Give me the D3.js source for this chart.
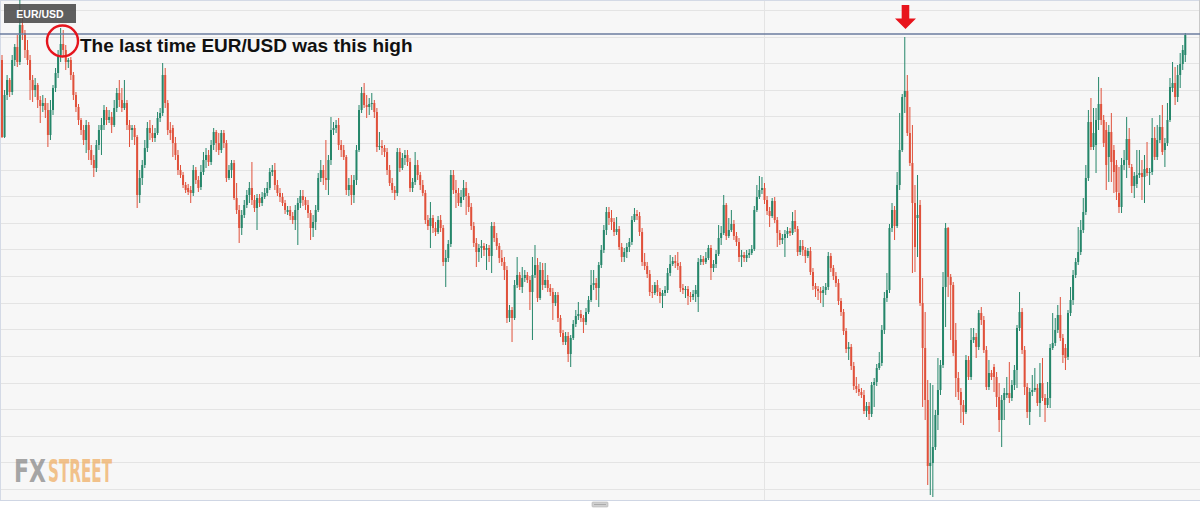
<!DOCTYPE html>
<html><head><meta charset="utf-8">
<script src="https://cdn.jsdelivr.net/npm/d3@7/dist/d3.min.js"></script>
<style>
html,body{margin:0;padding:0;background:#ffffff;}
svg{display:block;}
</style></head><body>
<svg id="chart" width="1200" height="510"></svg>
<script>
// EUR/USD candles: [open, high, low, close]
const candles = [
// part 1
[1.1440,1.1445,1.1362,1.1363],[1.1363,1.1410,1.1362,1.1405],[1.1405,1.1425,1.1400,1.1420],[1.1420,1.1422,1.1403,1.1408],
[1.1408,1.1445,1.1405,1.1440],[1.1440,1.1456,1.1434,1.1453],[1.1453,1.1465,1.1433,1.1438],[1.1438,1.1500,1.1435,1.1475],
[1.1475,1.1490,1.1460,1.1467],[1.1467,1.1470,1.1442,1.1450],[1.1450,1.1460,1.1435,1.1440],[1.1440,1.1445,1.1400,1.1420],
[1.1420,1.1425,1.1398,1.1410],[1.1410,1.1422,1.1403,1.1415],[1.1415,1.1417,1.1392,1.1400],[1.1400,1.1404,1.1377,1.1394],
[1.1394,1.1405,1.1388,1.1397],[1.1397,1.1402,1.1382,1.1390],[1.1390,1.1397,1.1353,1.1365],[1.1365,1.1400,1.1360,1.1390],
[1.1390,1.1415,1.1385,1.1412],[1.1412,1.1432,1.1408,1.1427],[1.1427,1.1450,1.1422,1.1445],[1.1445,1.1472,1.1438,1.1456],
[1.1456,1.1470,1.1443,1.1450],[1.1450,1.1455,1.1430,1.1438],[1.1438,1.1442,1.1432,1.1440],[1.1440,1.1443,1.1420,1.1425],
[1.1425,1.1428,1.1400,1.1405],[1.1405,1.1408,1.1388,1.1393],[1.1393,1.1396,1.1375,1.1380],[1.1380,1.1382,1.1365,1.1370],
[1.1370,1.1375,1.1355,1.1360],[1.1360,1.1380,1.1347,1.1375],[1.1375,1.1378,1.1340,1.1350],[1.1350,1.1355,1.1335,1.1340],
[1.1340,1.1345,1.1323,1.1332],[1.1332,1.1360,1.1328,1.1355],[1.1355,1.1375,1.1350,1.1370],
// part 2
[1.1370,1.1382,1.1345,1.1375],[1.1375,1.1395,1.1370,1.1390],[1.1390,1.1393,1.1375,1.1380],[1.1380,1.1390,1.1377,1.1383],
[1.1383,1.1388,1.1367,1.1375],[1.1375,1.1400,1.1373,1.1392],[1.1392,1.1412,1.1388,1.1407],[1.1407,1.1420,1.1393,1.1400],
[1.1400,1.1412,1.1388,1.1392],[1.1392,1.1420,1.1390,1.1397],[1.1397,1.1400,1.1370,1.1375],[1.1375,1.1380,1.1353,1.1370],
[1.1370,1.1375,1.1360,1.1372],[1.1372,1.1375,1.1355,1.1363],[1.1363,1.1365,1.1292,1.1305],[1.1305,1.1330,1.1297,1.1322],
[1.1322,1.1340,1.1315,1.1335],[1.1335,1.1360,1.1332,1.1352],[1.1352,1.1378,1.1348,1.1372],[1.1372,1.1380,1.1360,1.1367],
[1.1367,1.1375,1.1358,1.1362],[1.1362,1.1372,1.1358,1.1367],[1.1367,1.1388,1.1365,1.1382],[1.1382,1.1392,1.1378,1.1387],
[1.1387,1.1437,1.1384,1.1425],[1.1425,1.1432,1.1392,1.1397],[1.1397,1.1400,1.1365,1.1370],[1.1370,1.1378,1.1360,1.1367],
[1.1372,1.1375,1.1343,1.1357],[1.1357,1.1363,1.1340,1.1345],[1.1345,1.1350,1.1325,1.1330],[1.1330,1.1335,1.1322,1.1325],
[1.1325,1.1328,1.1312,1.1315],[1.1315,1.1318,1.1307,1.1310],[1.1312,1.1316,1.1305,1.1308],[1.1310,1.1314,1.1297,1.1307],
[1.1307,1.1335,1.1304,1.1330],[1.1330,1.1333,1.1316,1.1320],[1.1320,1.1324,1.1308,1.1312],
// part 3
[1.1313,1.1335,1.1310,1.1328],[1.1328,1.1348,1.1325,1.1340],[1.1340,1.1352,1.1332,1.1345],[1.1345,1.1350,1.1334,1.1338],
[1.1338,1.1360,1.1335,1.1355],[1.1355,1.1372,1.1350,1.1368],[1.1368,1.1370,1.1348,1.1357],[1.1357,1.1367,1.1345,1.1350],
[1.1350,1.1370,1.1347,1.1367],[1.1367,1.1370,1.1352,1.1357],[1.1357,1.1360,1.1318,1.1322],[1.1322,1.1335,1.1320,1.1330],
[1.1330,1.1340,1.1322,1.1337],[1.1337,1.1340,1.1300,1.1302],[1.1302,1.1317,1.1286,1.1290],[1.1290,1.1295,1.1257,1.1272],
[1.1272,1.1290,1.1265,1.1285],[1.1285,1.1300,1.1282,1.1295],[1.1295,1.1310,1.1292,1.1305],[1.1305,1.1318,1.1297,1.1312],
[1.1312,1.1338,1.1295,1.1300],[1.1300,1.1305,1.1288,1.1292],[1.1292,1.1306,1.1270,1.1302],[1.1302,1.1306,1.1293,1.1297],
[1.1297,1.1308,1.1294,1.1303],[1.1303,1.1312,1.1301,1.1307],[1.1307,1.1318,1.1304,1.1312],[1.1312,1.1332,1.1310,1.1328],
[1.1328,1.1335,1.1324,1.1330],[1.1330,1.1337,1.1310,1.1315],[1.1315,1.1320,1.1304,1.1307],[1.1307,1.1312,1.1298,1.1303],
[1.1303,1.1307,1.1294,1.1297],[1.1297,1.1300,1.1286,1.1290],[1.1288,1.1294,1.1285,1.1290],[1.1290,1.1294,1.1280,1.1284],
[1.1284,1.1288,1.1276,1.1280],[1.1280,1.1295,1.1270,1.1290],[1.1290,1.1302,1.1255,1.1297],
// part 4
[1.1297,1.1310,1.1292,1.1304],[1.1304,1.1310,1.1294,1.1300],[1.1300,1.1303,1.1290,1.1295],[1.1295,1.1300,1.1282,1.1287],
[1.1287,1.1290,1.1260,1.1272],[1.1272,1.1285,1.1263,1.1278],[1.1278,1.1295,1.1270,1.1290],[1.1290,1.1327,1.1288,1.1322],
[1.1322,1.1340,1.1318,1.1330],[1.1330,1.1335,1.1315,1.1322],[1.1322,1.1360,1.1310,1.1320],[1.1320,1.1345,1.1305,1.1340],
[1.1340,1.1383,1.1335,1.1370],[1.1370,1.1378,1.1365,1.1372],[1.1372,1.1380,1.1367,1.1375],[1.1375,1.1382,1.1350,1.1355],
[1.1355,1.1360,1.1343,1.1350],[1.1350,1.1355,1.1340,1.1343],[1.1343,1.1345,1.1305,1.1310],[1.1310,1.1322,1.1304,1.1315],
[1.1315,1.1325,1.1295,1.1305],[1.1305,1.1325,1.1297,1.1320],[1.1320,1.1355,1.1315,1.1350],[1.1350,1.1395,1.1348,1.1390],
[1.1390,1.1413,1.1387,1.1407],[1.1407,1.1417,1.1392,1.1395],[1.1395,1.1405,1.1382,1.1393],[1.1393,1.1402,1.1385,1.1396],
[1.1396,1.1407,1.1390,1.1397],[1.1397,1.1400,1.1382,1.1388],[1.1388,1.1392,1.1348,1.1353],[1.1353,1.1368,1.1350,1.1354],
[1.1354,1.1360,1.1345,1.1352],[1.1352,1.1355,1.1343,1.1348],[1.1348,1.1352,1.1325,1.1330],[1.1330,1.1335,1.1314,1.1317],
[1.1317,1.1322,1.1307,1.1310],[1.1310,1.1314,1.1300,1.1307],[1.1307,1.1352,1.1304,1.1348],
// part 5
[1.1348,1.1352,1.1328,1.1332],[1.1332,1.1347,1.1330,1.1342],[1.1342,1.1350,1.1335,1.1345],[1.1345,1.1350,1.1334,1.1338],
[1.1338,1.1342,1.1308,1.1312],[1.1312,1.1322,1.1308,1.1318],[1.1318,1.1348,1.1315,1.1335],[1.1335,1.1340,1.1320,1.1325],
[1.1325,1.1328,1.1310,1.1315],[1.1315,1.1320,1.1304,1.1307],[1.1307,1.1310,1.1276,1.1280],[1.1280,1.1285,1.1270,1.1274],
[1.1274,1.1298,1.1252,1.1282],[1.1282,1.1285,1.1267,1.1272],[1.1272,1.1278,1.1264,1.1268],[1.1268,1.1284,1.1266,1.1280],
[1.1280,1.1285,1.1268,1.1272],[1.1272,1.1275,1.1234,1.1238],[1.1238,1.1250,1.1213,1.1242],[1.1242,1.1260,1.1238,1.1256],
[1.1256,1.1330,1.1253,1.1325],[1.1325,1.1330,1.1306,1.1310],[1.1310,1.1320,1.1292,1.1307],[1.1307,1.1312,1.1294,1.1297],
[1.1297,1.1310,1.1293,1.1303],[1.1303,1.1320,1.1300,1.1312],[1.1312,1.1318,1.1285,1.1304],[1.1304,1.1307,1.1288,1.1293],
[1.1293,1.1297,1.1270,1.1274],[1.1274,1.1278,1.1253,1.1257],[1.1257,1.1262,1.1233,1.1248],[1.1248,1.1256,1.1238,1.1252],
[1.1252,1.1260,1.1242,1.1254],[1.1254,1.1257,1.1244,1.1250],[1.1250,1.1256,1.1230,1.1252],[1.1252,1.1255,1.1238,1.1244],
[1.1244,1.1278,1.1227,1.1274],[1.1274,1.1278,1.1258,1.1262],[1.1262,1.1267,1.1250,1.1254],
// part 6
[1.1254,1.1257,1.1237,1.1242],[1.1242,1.1250,1.1234,1.1238],[1.1238,1.1243,1.1220,1.1230],[1.1230,1.1234,1.1177,1.1182],
[1.1182,1.1195,1.1178,1.1190],[1.1190,1.1193,1.1158,1.1182],[1.1182,1.1220,1.1180,1.1215],[1.1215,1.1243,1.1212,1.1225],
[1.1225,1.1228,1.1210,1.1213],[1.1213,1.1233,1.1207,1.1222],[1.1222,1.1230,1.1218,1.1225],[1.1225,1.1228,1.1217,1.1220],
[1.1220,1.1224,1.1190,1.1208],[1.1208,1.1243,1.1160,1.1225],[1.1225,1.1255,1.1222,1.1235],[1.1235,1.1242,1.1198,1.1202],
[1.1202,1.1238,1.1200,1.1230],[1.1230,1.1237,1.1210,1.1215],[1.1215,1.1237,1.1212,1.1220],[1.1220,1.1225,1.1208,1.1212],
[1.1212,1.1216,1.1204,1.1208],[1.1208,1.1212,1.1180,1.1197],[1.1197,1.1208,1.1194,1.1205],[1.1205,1.1208,1.1178,1.1182],
[1.1182,1.1185,1.1163,1.1167],[1.1167,1.1170,1.1155,1.1158],[1.1158,1.1168,1.1155,1.1164],[1.1164,1.1168,1.1138,1.1146],
[1.1146,1.1165,1.1133,1.1162],[1.1162,1.1180,1.1160,1.1176],[1.1176,1.1190,1.1173,1.1184],[1.1184,1.1198,1.1180,1.1186],
[1.1186,1.1190,1.1178,1.1182],[1.1182,1.1185,1.1167,1.1178],[1.1178,1.1192,1.1175,1.1188],[1.1188,1.1204,1.1186,1.1200],
[1.1200,1.1230,1.1198,1.1215],[1.1215,1.1230,1.1210,1.1217],[1.1217,1.1222,1.1200,1.1212],
// part 7
[1.1212,1.1238,1.1193,1.1235],[1.1235,1.1255,1.1232,1.1250],[1.1250,1.1275,1.1247,1.1270],[1.1270,1.1293,1.1265,1.1288],
[1.1288,1.1293,1.1275,1.1282],[1.1282,1.1290,1.1270,1.1278],[1.1278,1.1282,1.1264,1.1268],[1.1268,1.1283,1.1265,1.1271],
[1.1271,1.1274,1.1250,1.1253],[1.1253,1.1257,1.1238,1.1243],[1.1243,1.1252,1.1238,1.1248],[1.1248,1.1257,1.1242,1.1253],
[1.1253,1.1262,1.1248,1.1258],[1.1258,1.1284,1.1255,1.1280],[1.1280,1.1292,1.1278,1.1286],[1.1286,1.1290,1.1280,1.1284],
[1.1284,1.1288,1.1264,1.1268],[1.1268,1.1272,1.1234,1.1238],[1.1238,1.1247,1.1230,1.1234],[1.1234,1.1238,1.1222,1.1226],
[1.1226,1.1230,1.1204,1.1208],[1.1208,1.1215,1.1202,1.1207],[1.1207,1.1218,1.1205,1.1215],[1.1215,1.1220,1.1204,1.1208],
[1.1208,1.1212,1.1197,1.1204],[1.1204,1.1210,1.1192,1.1207],[1.1207,1.1214,1.1204,1.1210],[1.1210,1.1232,1.1207,1.1227],
[1.1227,1.1245,1.1224,1.1236],[1.1236,1.1243,1.1234,1.1239],[1.1239,1.1245,1.1232,1.1237],[1.1237,1.1248,1.1230,1.1234],
[1.1234,1.1238,1.1208,1.1212],[1.1212,1.1216,1.1206,1.1210],[1.1210,1.1214,1.1202,1.1211],[1.1211,1.1214,1.1195,1.1204],
[1.1204,1.1208,1.1198,1.1203],[1.1203,1.1210,1.1200,1.1206],[1.1206,1.1215,1.1198,1.1210],
// part 8
[1.1203,1.1242,1.1188,1.1238],[1.1238,1.1245,1.1235,1.1241],[1.1241,1.1244,1.1235,1.1238],[1.1238,1.1248,1.1236,1.1242],
[1.1242,1.1255,1.1240,1.1252],[1.1252,1.1255,1.1220,1.1232],[1.1232,1.1240,1.1228,1.1236],[1.1236,1.1250,1.1232,1.1246],
[1.1246,1.1275,1.1244,1.1262],[1.1262,1.1274,1.1255,1.1267],[1.1267,1.1305,1.1265,1.1295],[1.1295,1.1297,1.1260,1.1264],
[1.1264,1.1282,1.1262,1.1270],[1.1270,1.1290,1.1268,1.1276],[1.1276,1.1280,1.1260,1.1264],[1.1264,1.1268,1.1254,1.1258],
[1.1258,1.1262,1.1238,1.1243],[1.1243,1.1250,1.1233,1.1245],[1.1245,1.1248,1.1238,1.1242],[1.1242,1.1250,1.1238,1.1245],
[1.1245,1.1251,1.1242,1.1247],[1.1247,1.1255,1.1245,1.1251],[1.1251,1.1294,1.1249,1.1290],[1.1290,1.1315,1.1288,1.1303],
[1.1303,1.1324,1.1301,1.1310],[1.1310,1.1323,1.1306,1.1312],[1.1312,1.1317,1.1296,1.1300],[1.1300,1.1304,1.1285,1.1289],
[1.1289,1.1293,1.1273,1.1284],[1.1284,1.1302,1.1282,1.1299],[1.1299,1.1303,1.1277,1.1280],[1.1280,1.1283,1.1253,1.1267],
[1.1267,1.1270,1.1255,1.1260],[1.1260,1.1266,1.1256,1.1262],[1.1262,1.1270,1.1243,1.1266],[1.1266,1.1273,1.1262,1.1269],
[1.1269,1.1272,1.1264,1.1267],[1.1267,1.1288,1.1265,1.1279],[1.1279,1.1290,1.1268,1.1271],
// part 9
[1.1271,1.1274,1.1244,1.1248],[1.1248,1.1260,1.1245,1.1254],[1.1254,1.1260,1.1244,1.1250],[1.1250,1.1253,1.1237,1.1244],
[1.1244,1.1252,1.1242,1.1249],[1.1249,1.1253,1.1225,1.1228],[1.1228,1.1232,1.1210,1.1214],[1.1214,1.1217,1.1203,1.1211],
[1.1211,1.1214,1.1200,1.1209],[1.1209,1.1213,1.1197,1.1207],[1.1207,1.1214,1.1193,1.1210],[1.1210,1.1217,1.1205,1.1213],
[1.1213,1.1248,1.1210,1.1244],[1.1244,1.1247,1.1228,1.1232],[1.1232,1.1235,1.1220,1.1224],[1.1224,1.1228,1.1213,1.1217],
[1.1217,1.1221,1.1195,1.1199],[1.1199,1.1202,1.1184,1.1188],[1.1188,1.1191,1.1165,1.1169],[1.1169,1.1172,1.1147,1.1151],
[1.1151,1.1158,1.1140,1.1153],[1.1153,1.1156,1.1130,1.1134],[1.1134,1.1138,1.1110,1.1114],[1.1114,1.1123,1.1107,1.1111],
[1.1111,1.1116,1.1104,1.1108],[1.1108,1.1112,1.1102,1.1105],[1.1105,1.1110,1.1086,1.1089],[1.1089,1.1098,1.1083,1.1094],
[1.1094,1.1098,1.1080,1.1086],[1.1086,1.1118,1.1083,1.1115],[1.1115,1.1122,1.1093,1.1118],[1.1118,1.1136,1.1114,1.1132],
[1.1132,1.1148,1.1130,1.1137],[1.1137,1.1175,1.1134,1.1170],[1.1170,1.1208,1.1166,1.1202],[1.1202,1.1227,1.1198,1.1210],
[1.1210,1.1276,1.1207,1.1272],[1.1272,1.1297,1.1268,1.1290],[1.1290,1.1294,1.1260,1.1274],
// part 10
[1.1274,1.1328,1.1272,1.1315],[1.1315,1.1387,1.1310,1.1350],[1.1350,1.1406,1.1348,1.1403],[1.1403,1.1463,1.1387,1.1409],
[1.1409,1.1425,1.1364,1.1367],[1.1367,1.1393,1.1334,1.1337],[1.1337,1.1375,1.1227,1.1297],[1.1297,1.1315,1.1228,1.1253],
[1.1282,1.1325,1.1243,1.1285],[1.1295,1.1300,1.1194,1.1197],[1.1197,1.1222,1.1093,1.1152],[1.1152,1.1188,1.1080,1.1100],
[1.1100,1.1120,1.1015,1.1034],[1.1034,1.1117,1.1005,1.1037],[1.1037,1.1115,1.1003,1.1053],[1.1053,1.1090,1.1050,1.1085],
[1.1085,1.1142,1.1070,1.1110],[1.1110,1.1140,1.1105,1.1135],[1.1135,1.1228,1.1132,1.1213],[1.1213,1.1277,1.1173,1.1272],
[1.1272,1.1273,1.1203,1.1223],[1.1223,1.1226,1.1160,1.1215],[1.1215,1.1218,1.1144,1.1147],[1.1160,1.1177,1.1103,1.1122],
[1.1122,1.1128,1.1100,1.1108],[1.1108,1.1112,1.1077,1.1095],[1.1095,1.1100,1.1075,1.1088],[1.1088,1.1145,1.1086,1.1140],
[1.1140,1.1144,1.1120,1.1123],[1.1123,1.1172,1.1120,1.1160],[1.1160,1.1172,1.1157,1.1163],[1.1163,1.1167,1.1142,1.1153],
[1.1153,1.1190,1.1150,1.1187],[1.1187,1.1193,1.1175,1.1180],[1.1180,1.1184,1.1147,1.1150],[1.1150,1.1154,1.1110,1.1113],
[1.1113,1.1140,1.1110,1.1127],[1.1127,1.1130,1.1120,1.1123],[1.1133,1.1136,1.1108,1.1123],
// part 11
[1.1123,1.1128,1.1093,1.1103],[1.1103,1.1117,1.1068,1.1080],[1.1080,1.1105,1.1053,1.1100],[1.1100,1.1112,1.1080,1.1107],
[1.1105,1.1123,1.1102,1.1107],[1.1107,1.1138,1.1097,1.1102],[1.1102,1.1120,1.1099,1.1115],[1.1115,1.1135,1.1110,1.1130],
[1.1130,1.1175,1.1112,1.1172],[1.1172,1.1208,1.1169,1.1188],[1.1188,1.1192,1.1146,1.1150],[1.1150,1.1154,1.1105,1.1113],
[1.1113,1.1117,1.1082,1.1088],[1.1088,1.1112,1.1075,1.1108],[1.1108,1.1125,1.1104,1.1110],[1.1110,1.1132,1.1108,1.1112],
[1.1112,1.1116,1.1094,1.1097],[1.1097,1.1137,1.1083,1.1117],[1.1117,1.1142,1.1099,1.1102],[1.1102,1.1106,1.1078,1.1095],
[1.1095,1.1118,1.1092,1.1102],[1.1102,1.1156,1.1092,1.1152],[1.1152,1.1187,1.1150,1.1157],[1.1157,1.1182,1.1154,1.1170],
[1.1170,1.1195,1.1167,1.1185],[1.1185,1.1203,1.1159,1.1162],[1.1162,1.1166,1.1137,1.1145],[1.1152,1.1156,1.1130,1.1142],
[1.1143,1.1190,1.1140,1.1187],[1.1187,1.1213,1.1184,1.1200],[1.1200,1.1230,1.1195,1.1225],[1.1225,1.1242,1.1222,1.1238],
[1.1238,1.1273,1.1235,1.1248],[1.1248,1.1280,1.1245,1.1270],[1.1270,1.1302,1.1267,1.1288],[1.1288,1.1335,1.1285,1.1322],
[1.1322,1.1390,1.1319,1.1378],[1.1378,1.1402,1.1350,1.1353],[1.1353,1.1392,1.1350,1.1367],
// part 12
[1.1355,1.1392,1.1327,1.1380],[1.1380,1.1423,1.1370,1.1396],[1.1396,1.1412,1.1375,1.1380],[1.1380,1.1385,1.1353,1.1357],
[1.1370,1.1378,1.1310,1.1335],[1.1343,1.1375,1.1318,1.1368],[1.1368,1.1387,1.1318,1.1338],[1.1350,1.1355,1.1307,1.1328],
[1.1335,1.1340,1.1300,1.1308],[1.1307,1.1333,1.1287,1.1293],[1.1293,1.1342,1.1287,1.1335],[1.1335,1.1350,1.1330,1.1340],
[1.1340,1.1383,1.1322,1.1361],[1.1361,1.1372,1.1332,1.1335],[1.1333,1.1336,1.1307,1.1314],[1.1314,1.1328,1.1302,1.1324],
[1.1316,1.1350,1.1312,1.1325],[1.1325,1.1350,1.1322,1.1327],[1.1327,1.1340,1.1300,1.1323],[1.1323,1.1345,1.1297,1.1331],
[1.1332,1.1358,1.1324,1.1327],[1.1327,1.1332,1.1315,1.1328],[1.1328,1.1382,1.1325,1.1362],[1.1362,1.1373,1.1340,1.1343],
[1.1343,1.1375,1.1340,1.1360],[1.1360,1.1385,1.1357,1.1373],[1.1373,1.1395,1.1345,1.1348],[1.1350,1.1362,1.1333,1.1357],
[1.1357,1.1397,1.1354,1.1380],[1.1380,1.1422,1.1378,1.1413],[1.1412,1.1438,1.1408,1.1417],[1.1417,1.1433,1.1395,1.1403],
[1.1403,1.1435,1.1398,1.1425],[1.1425,1.1447,1.1412,1.1436],[1.1436,1.1455,1.1430,1.1450],[1.1445,1.1467,1.1438,1.1465]
];

const symbol = "EUR/USD";
const annotationText = "The last time EUR/USD was this high";
const logoParts = ["FX", "STREET"];
const highLevel = 1.1466;          // the horizontal resistance line
const circleIndex = 24;            // candle circled on the left
const circlePrice = 1.1459;
const arrowIndex = 354;            // candle marked by the arrow
const gridTop = 1.1490, gridStep = 0.002661, gridCount = 19;
const verticalGridIndex = 298.8;

const W = 1200, H = 510, plotBottom = 500;
const svg = d3.select("#chart");

const x = d3.scaleLinear().domain([0, candles.length - 1]).range([2, 1185.3]);
const y = d3.scaleLinear().domain([1.1000, 1.1500]).range([plotBottom, 0]);

const GREEN = "#25866a", RED = "#e0513b";

// backgrounds
svg.append("rect").attr("x",0).attr("y",0).attr("width",W).attr("height",H).attr("fill","#ffffff");
svg.append("rect").attr("x",0).attr("y",0).attr("width",W).attr("height",plotBottom).attr("fill","#f7f7f7");

// horizontal grid
const gridLevels = d3.range(gridCount).map(k => gridTop - k * gridStep);
svg.append("g").selectAll("line").data(gridLevels).join("line")
  .attr("x1",0).attr("x2",W)
  .attr("y1",d=>Math.round(y(d))+0.5).attr("y2",d=>Math.round(y(d))+0.5)
  .attr("stroke","#e4e4e4").attr("stroke-width",1);

// vertical grid
svg.append("line")
  .attr("x1",Math.round(x(verticalGridIndex))+0.5).attr("x2",Math.round(x(verticalGridIndex))+0.5)
  .attr("y1",0).attr("y2",plotBottom).attr("stroke","#e4e4e4");

// frame
svg.append("line").attr("x1",0).attr("x2",W).attr("y1",0.5).attr("y2",0.5).attr("stroke","#d4dae6");
svg.append("line").attr("x1",0.5).attr("x2",0.5).attr("y1",0).attr("y2",plotBottom).attr("stroke","#d4dae6");
svg.append("line").attr("x1",0).attr("x2",W).attr("y1",plotBottom+0.5).attr("y2",plotBottom+0.5).attr("stroke","#cfd6e4");
svg.append("line").attr("x1",W-0.5).attr("x2",W-0.5).attr("y1",0).attr("y2",357).attr("stroke","#c9c9c9");

// scroll handle
svg.append("rect").attr("x",592).attr("y",502).attr("width",16).attr("height",5).attr("rx",1)
  .attr("fill","#d0d0d0").attr("stroke","#b3b3b3").attr("stroke-width",0.6);
svg.append("line").attr("x1",594).attr("x2",606).attr("y1",504.5).attr("y2",504.5).attr("stroke","#9a9a9a").attr("stroke-width",0.7);

// watermark: two condensed words, each squeezed to its box with a real transform
const logoBoxes = [[14, 32, "#8a8a8a"], [48, 64, "#f0b067"]];
const logoG = svg.append("g").attr("opacity",0.75);
logoParts.forEach((word, k) => {
  const [lx, lw, col] = logoBoxes[k];
  const t = logoG.append("text").attr("x",0).attr("y",0).text(word)
    .attr("font-family","'DejaVu Sans Condensed','DejaVu Sans',sans-serif").attr("font-weight","bold")
    .attr("font-size",32).attr("fill",col);
  const natural = t.node().getComputedTextLength() || lw;
  t.attr("transform",`translate(${lx},482) scale(${lw/natural},1)`);
});

// candles
const g = svg.append("g");
const c = g.selectAll("g.c").data(candles).join("g").attr("class","c");
c.append("line")
  .attr("x1",(d,i)=>x(i)).attr("x2",(d,i)=>x(i))
  .attr("y1",d=>y(d[1])).attr("y2",d=>y(d[2]))
  .attr("stroke",d=>d[3]>=d[0]?GREEN:RED).attr("stroke-width",1);
c.append("rect")
  .attr("x",(d,i)=>x(i)-1).attr("width",2)
  .attr("y",d=>y(Math.max(d[0],d[3])))
  .attr("height",d=>Math.max(1,Math.abs(y(d[0])-y(d[3]))))
  .attr("fill",d=>d[3]>=d[0]?GREEN:RED);

// resistance line
svg.append("line").attr("x1",0).attr("x2",W).attr("y1",y(highLevel)).attr("y2",y(highLevel))
  .attr("stroke","#6b7c9f").attr("stroke-width",1.6);

// symbol label
svg.append("rect").attr("x",4).attr("y",4).attr("width",72).attr("height",19)
  .attr("fill","#4a4a4a").attr("opacity",0.88);
svg.append("text").attr("x",40).attr("y",18).attr("text-anchor","middle").text(symbol)
  .attr("font-family","'Liberation Sans',Arial,sans-serif").attr("font-weight","bold")
  .attr("font-size",10.5).attr("fill","#ffffff");

// circle annotation
svg.append("circle").attr("cx",x(circleIndex)-0.7).attr("cy",y(circlePrice)).attr("r",15.5)
  .attr("fill","none").attr("stroke","#e5151d").attr("stroke-width",2.4);
svg.append("text").attr("x",80).attr("y",52).text(annotationText)
  .attr("font-family","'Liberation Sans',Arial,sans-serif").attr("font-weight","bold")
  .attr("font-size",19).attr("fill","#111111");

// arrow annotation
const ax = x(arrowIndex) + 0.7;
svg.append("path")
  .attr("d",`M${ax-3.8},5 L${ax+3.8},5 L${ax+3.8},18.5 L${ax+10.5},18.5 L${ax},29 L${ax-10.5},18.5 L${ax-3.8},18.5 Z`)
  .attr("fill","#e8141c");
</script>
</body></html>
